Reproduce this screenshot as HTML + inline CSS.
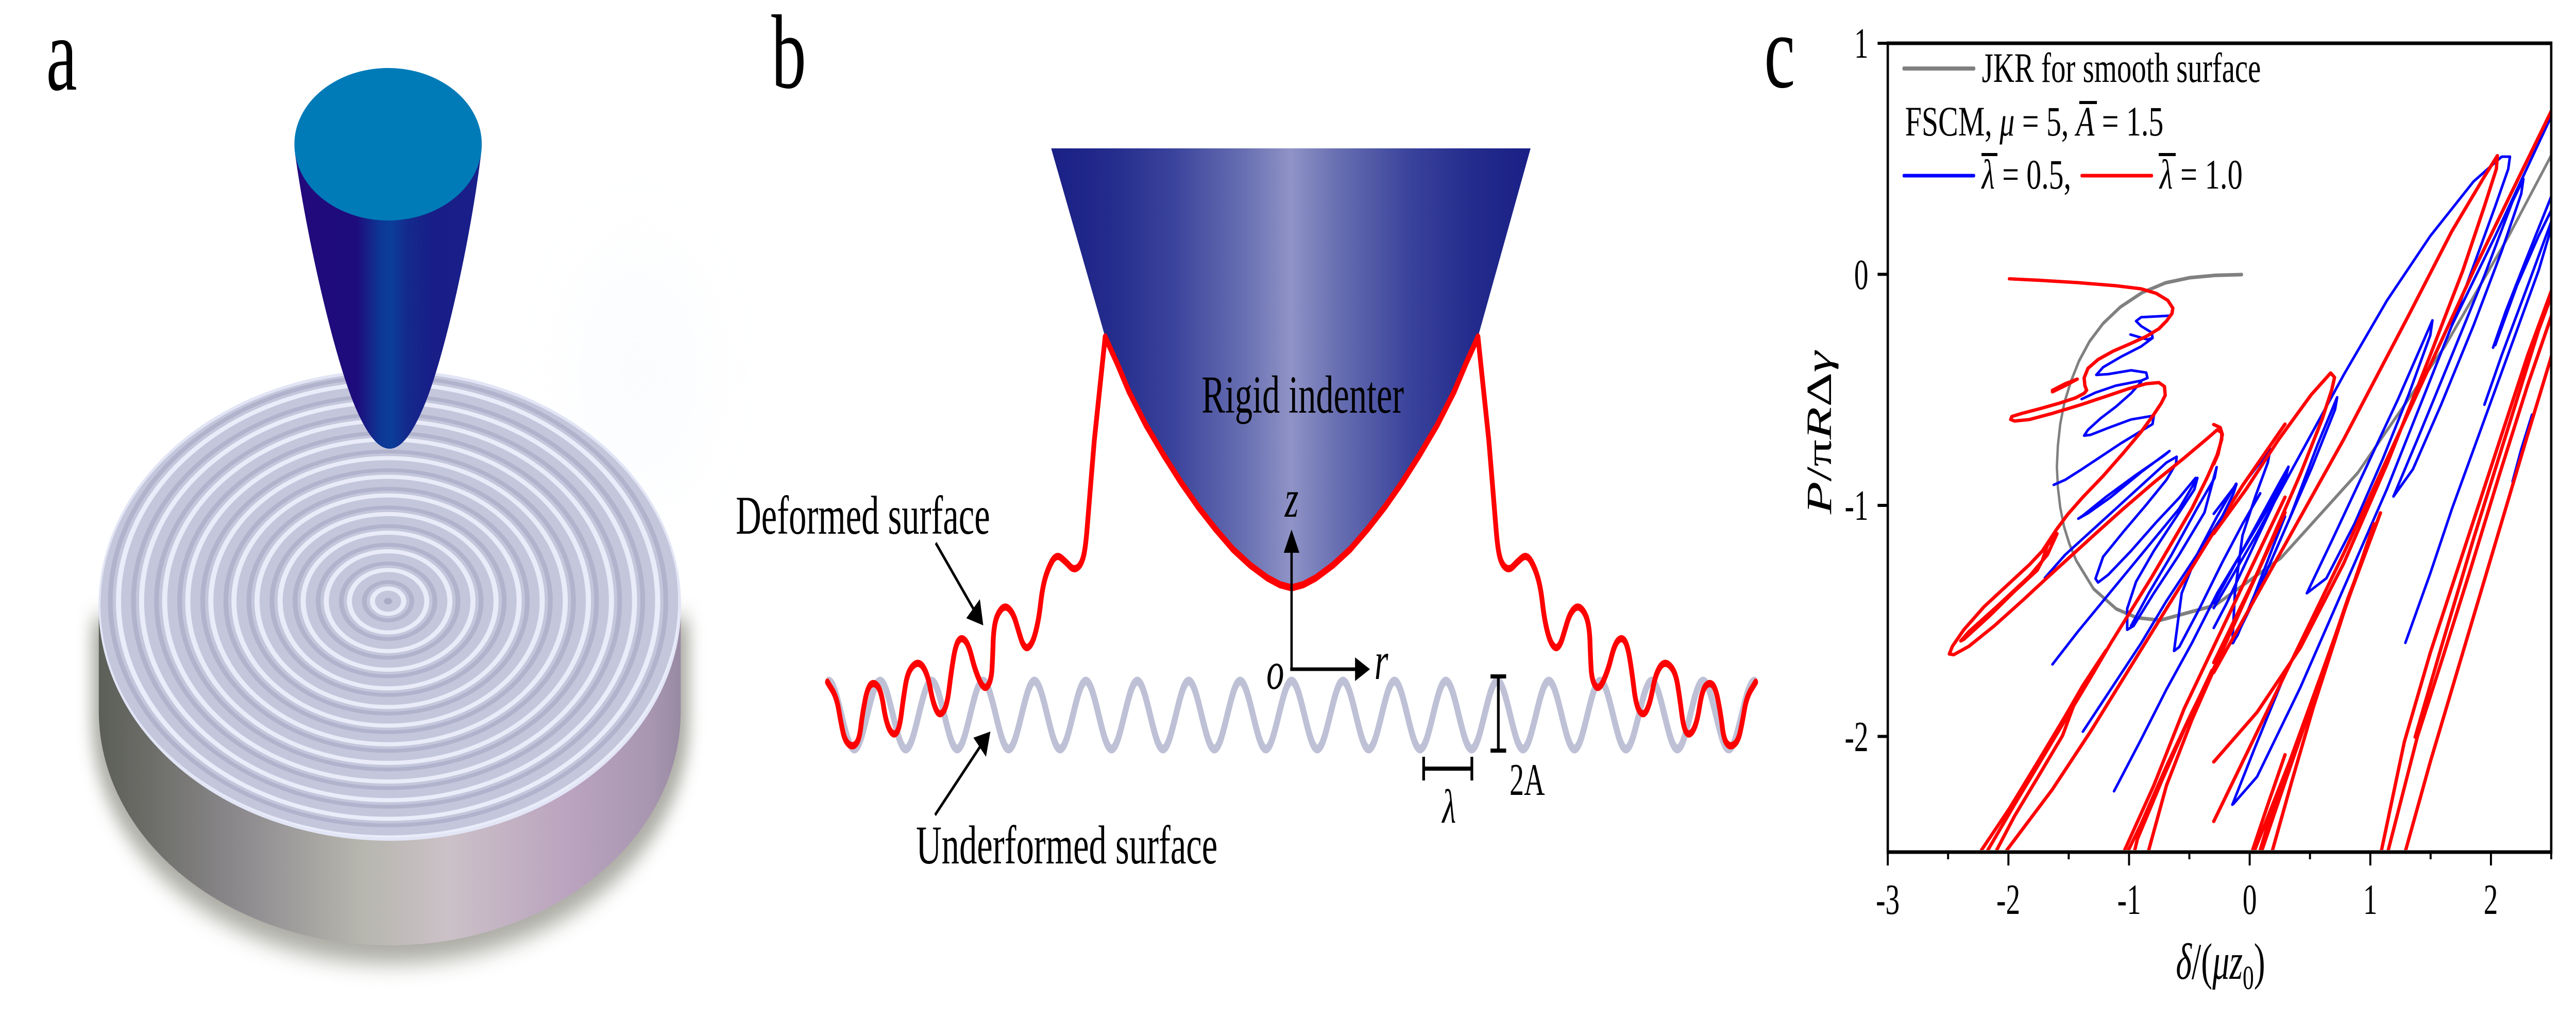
<!DOCTYPE html>
<html>
<head>
<meta charset="utf-8">
<style>
  html, body { margin:0; padding:0; background:#ffffff; overflow:hidden; width:100%; height:100%; }
  svg { display:block; width:100vw; height:100vh; }
  text { font-family: "Liberation Serif", "DejaVu Serif", serif; fill:#000; }
</style>
</head>
<body>
<svg xmlns="http://www.w3.org/2000/svg" viewBox="0 0 7587 1978" preserveAspectRatio="none">
  <defs>
    <linearGradient id="coneGrad" gradientUnits="userSpaceOnUse" x1="869" y1="0" x2="1417" y2="0">
      <stop offset="0" stop-color="#220a7c"/>
      <stop offset="0.33" stop-color="#1e0c7c"/>
      <stop offset="0.46" stop-color="#0d3895"/>
      <stop offset="0.52" stop-color="#0b3e99"/>
      <stop offset="0.6" stop-color="#142a8d"/>
      <stop offset="0.75" stop-color="#181d87"/>
      <stop offset="1" stop-color="#1a1f8a"/>
    </linearGradient>
    <linearGradient id="sideGrad" gradientUnits="userSpaceOnUse" x1="291" y1="0" x2="2005" y2="0">
      <stop offset="0" stop-color="#5c5e58"/>
      <stop offset="0.08" stop-color="#6b6c67"/>
      <stop offset="0.25" stop-color="#8e8b8f"/>
      <stop offset="0.45" stop-color="#b6b6ae"/>
      <stop offset="0.6" stop-color="#cbc1c7"/>
      <stop offset="0.8" stop-color="#bba4bf"/>
      <stop offset="0.95" stop-color="#a896b0"/>
      <stop offset="1" stop-color="#988aa2"/>
    </linearGradient>
    <linearGradient id="indGrad" gradientUnits="userSpaceOnUse" x1="3096" y1="0" x2="4508" y2="0">
      <stop offset="0" stop-color="#1a2086"/>
      <stop offset="0.12" stop-color="#232b8c"/>
      <stop offset="0.25" stop-color="#39429b"/>
      <stop offset="0.4" stop-color="#676eb1"/>
      <stop offset="0.5" stop-color="#8f93c6"/>
      <stop offset="0.6" stop-color="#676eb1"/>
      <stop offset="0.75" stop-color="#39429b"/>
      <stop offset="0.88" stop-color="#232b8c"/>
      <stop offset="1" stop-color="#1a2086"/>
    </linearGradient>
    <radialGradient id="glowGrad" cx="0.5" cy="0.5" r="0.5">
      <stop offset="0" stop-color="#eef5fc"/>
      <stop offset="1" stop-color="#ffffff" stop-opacity="0"/>
    </radialGradient>
    <filter id="blurShadow" x="-20%" y="-20%" width="140%" height="140%">
      <feGaussianBlur stdDeviation="22"/>
    </filter>
    <filter id="blurGlow" x="-50%" y="-50%" width="200%" height="200%">
      <feGaussianBlur stdDeviation="60"/>
    </filter>
    <clipPath id="topClip">
      <ellipse cx="1148" cy="1175" rx="857" ry="456"/>
    </clipPath>
    <clipPath id="plotClip">
      <rect x="5563" y="87" width="1948" height="1563"/>
    </clipPath>
  </defs>

  <rect x="0" y="0" width="7587" height="1978" fill="#ffffff"/>

  <!-- ================= PANEL A ================= -->
  <text x="136" y="174" font-size="205">a</text>

  <ellipse cx="1880" cy="720" rx="420" ry="460" fill="url(#glowGrad)" opacity="0.4" filter="url(#blurGlow)"/>

  <path d="M270,1200 L270,1400 A880,470 0 0 0 2030,1400 L2030,1200 Z" fill="#5a5a4c" opacity="0.5" filter="url(#blurShadow)"/>

  <path d="M291,1175 L291,1380 A857,455 0 0 0 2005,1380 L2005,1175 Z" fill="url(#sideGrad)"/>

  <ellipse cx="1148" cy="1175" rx="857" ry="456" fill="#c4c6dc"/>
  <g clip-path="url(#topClip)">
    <g transform="translate(1143,1167) scale(1,0.532)" fill="none">
      <g stroke="#a2a5c0" stroke-width="14" opacity="0.55">
        <circle r="70"/><circle r="138"/><circle r="206"/><circle r="274"/><circle r="342"/>
        <circle r="410"/><circle r="478"/><circle r="546"/><circle r="614"/><circle r="682"/>
        <circle r="750"/><circle r="818"/><circle r="886"/>
      </g>
      <g stroke="#eef0fc" stroke-width="15" opacity="0.9">
        <circle r="46"/><circle r="114"/><circle r="182"/><circle r="250"/><circle r="318"/>
        <circle r="386"/><circle r="454"/><circle r="522"/><circle r="590"/><circle r="658"/>
        <circle r="726"/><circle r="794"/><circle r="862"/>
      </g>
      <circle r="12" fill="#a9abc4"/>
    </g>
  </g>
  <ellipse cx="1148" cy="1175" rx="855" ry="454" fill="none" stroke="#e2e5f5" stroke-width="6"/>

  <path d="M869,298 C905,470 985,690 1040,780 C1080,845 1115,871 1147,871 C1180,871 1214,845 1254,780 C1309,690 1385,470 1417,298 Z" fill="url(#coneGrad)"/>
  <ellipse cx="1143" cy="280" rx="276" ry="148" fill="#007bb8"/>

  <!-- ================= PANEL B ================= -->
  <text x="2272" y="170" font-size="205">b</text>

  <path d="M3096,288 L4508,288 L4353,654 L4318,705 L4283,760 L4233,825 L4181,883 L4130,936 L4079,984 L4028,1027 L3977,1066 L3926,1097 L3875,1122 L3838,1135 L3804,1141 L3770,1135 L3733,1122 L3682,1097 L3631,1066 L3580,1027 L3529,984 L3478,936 L3427,883 L3375,825 L3325,760 L3290,705 L3255,654 Z" fill="url(#indGrad)"/>
  <text x="3539" y="801" font-size="104" textLength="596" lengthAdjust="spacingAndGlyphs">Rigid indenter</text>

  <path d="M2440.5,1322 c27.53,0 48.22,132 75.75,132 c27.53,0 48.22,-132 75.75,-132 c27.53,0 48.22,132 75.75,132 c27.53,0 48.22,-132 75.75,-132 c27.53,0 48.22,132 75.75,132 c27.53,0 48.22,-132 75.75,-132 c27.53,0 48.22,132 75.75,132 c27.53,0 48.22,-132 75.75,-132 c27.53,0 48.22,132 75.75,132 c27.53,0 48.22,-132 75.75,-132 c27.53,0 48.22,132 75.75,132 c27.53,0 48.22,-132 75.75,-132 c27.53,0 48.22,132 75.75,132 c27.53,0 48.22,-132 75.75,-132 c27.53,0 48.22,132 75.75,132 c27.53,0 48.22,-132 75.75,-132 c27.53,0 48.22,132 75.75,132 c27.53,0 48.22,-132 75.75,-132 c27.53,0 48.22,132 75.75,132 c27.53,0 48.22,-132 75.75,-132 c27.53,0 48.22,132 75.75,132 c27.53,0 48.22,-132 75.75,-132 c27.53,0 48.22,132 75.75,132 c27.53,0 48.22,-132 75.75,-132 c27.53,0 48.22,132 75.75,132 c27.53,0 48.22,-132 75.75,-132 c27.53,0 48.22,132 75.75,132 c27.53,0 48.22,-132 75.75,-132 c27.53,0 48.22,132 75.75,132 c27.53,0 48.22,-132 75.75,-132 c27.53,0 48.22,132 75.75,132 c27.53,0 48.22,-132 75.75,-132 c27.53,0 48.22,132 75.75,132 c27.53,0 48.22,-132 75.75,-132 c27.53,0 48.22,132 75.75,132 c27.53,0 48.22,-132 75.75,-132" fill="none" stroke="#bec1d6" stroke-width="17" stroke-linecap="round"/>

  <path fill="none" stroke="#ff0000" stroke-width="14" stroke-linejoin="round" stroke-linecap="round" d="
    M2437,1324 L2450.5,1338.5 Q2464,1353 2470.5,1378.5 Q2477,1404 2483,1421.5 Q2489,1439 2500.5,1445 Q2512,1451 2521.5,1443.5
    Q2531,1436 2535.5,1410.5 Q2540,1385 2548,1359 Q2556,1333 2565.5,1328.5 Q2575,1324 2585,1332 Q2595,1340 2602.5,1372
    Q2610,1404 2620.5,1416.5 Q2631,1429 2640,1422.5 Q2649,1416 2655,1384.5 Q2661,1353 2667.5,1327.5 Q2674,1302 2690,1292
    Q2706,1282 2719,1295 Q2732,1308 2740,1336.5 Q2748,1365 2757.5,1378 Q2767,1391 2778,1381.5 Q2789,1372 2795.5,1337
    Q2802,1302 2808.5,1276.5 Q2815,1251 2823.5,1243.5 Q2832,1236 2842.5,1243.5 Q2853,1251 2862.5,1276.5 Q2872,1302 2885.5,1321.5
    Q2899,1341 2909.5,1331 Q2920,1321 2922,1295.5 Q2924,1270 2925,1247.5 Q2926,1225 2931,1209 Q2936,1193 2948,1183.5
    Q2960,1174 2972,1182 Q2984,1190 2992,1207.5 Q3000,1225 3006,1238 Q3012,1251 3019,1255.5 Q3026,1260 3035,1252
    Q3044,1244 3052,1222 Q3060,1200 3065,1171 Q3070,1142 3078,1123 Q3086,1104 3098.5,1089.5 Q3111,1075 3125.5,1083
    Q3140,1091 3151,1099 Q3162,1107 3173,1102 Q3184,1097 3190.5,1081.5 Q3197,1066 3202,1024.5 Q3207,983 3215,919
    L3223,855 L3255,654
    L3290,705 L3325,760 L3375,825 L3427,883 L3478,936 L3529,984 L3580,1027 L3631,1066 L3682,1097 L3733,1122 L3770,1135 L3804,1141
    L3838,1135 L3875,1122 L3926,1097 L3977,1066 L4028,1027 L4079,984 L4130,936 L4181,883 L4233,825 L4283,760 L4318,705 L4353,654
    L4385,855 L4393,919 Q4401,983 4406,1024.5 Q4411,1066 4417.5,1081.5 Q4424,1097 4435,1102 Q4446,1107 4457,1099
    Q4468,1091 4482.5,1083 Q4497,1075 4509.5,1089.5 Q4522,1104 4530,1123 Q4538,1142 4543,1171 Q4548,1200 4556,1222
    Q4564,1244 4573,1252 Q4582,1260 4589,1255.5 Q4596,1251 4602,1238 Q4608,1225 4616,1207.5 Q4624,1190 4636,1182
    Q4648,1174 4660,1183.5 Q4672,1193 4677,1209 Q4682,1225 4683,1247.5 Q4684,1270 4686,1295.5 Q4688,1321 4698.5,1331
    Q4709,1341 4722.5,1321.5 Q4736,1302 4745.5,1276.5 Q4755,1251 4765.5,1243.5 Q4776,1236 4784.5,1243.5 Q4793,1251 4799.5,1276.5
    Q4806,1302 4812.5,1337 Q4819,1372 4830,1381.5 Q4841,1391 4850.5,1378 Q4860,1365 4868,1336.5 Q4876,1308 4889,1295
    Q4902,1282 4918,1292 Q4934,1302 4940.5,1327.5 Q4947,1353 4953,1384.5 Q4959,1416 4968,1422.5 Q4977,1429 4987.5,1416.5
    Q4998,1404 5005.5,1372 Q5013,1340 5023,1332 Q5033,1324 5042.5,1328.5 Q5052,1333 5060,1359 Q5068,1385 5072.5,1410.5
    Q5077,1436 5086.5,1443.5 Q5096,1451 5107.5,1445 Q5119,1439 5125,1421.5 Q5131,1404 5137.5,1378.5 Q5144,1353 5157.5,1338.5
    L5171,1324"/>

  <text x="2167" y="1036" font-size="106" textLength="749" lengthAdjust="spacingAndGlyphs">Deformed surface</text>
  <line x1="2756" y1="1054" x2="2868" y2="1183" stroke="#000" stroke-width="6.5"/>
  <polygon points="2896,1214 2846,1200 2886,1163" fill="#000"/>

  <text x="2698" y="1676" font-size="106" textLength="888" lengthAdjust="spacingAndGlyphs">Underformed surface</text>
  <line x1="2754" y1="1582" x2="2887" y2="1449" stroke="#000" stroke-width="6.5"/>
  <polygon points="2917,1420 2867,1432 2904,1469" fill="#000"/>

  <line x1="3804" y1="1302" x2="3804" y2="1068" stroke="#000" stroke-width="7"/>
  <polygon points="3804,1028 3781,1073 3827,1073" fill="#000"/>
  <line x1="3800" y1="1299" x2="3995" y2="1299" stroke="#000" stroke-width="7"/>
  <polygon points="4035,1299 3991,1276 3991,1322" fill="#000"/>
  <text x="3784" y="1003" font-size="104" font-style="italic">z</text>
  <text x="3730" y="1337" font-size="104" font-style="italic">o</text>
  <text x="4048" y="1318" font-size="104" font-style="italic">r</text>

  <line x1="4413" y1="1313" x2="4413" y2="1457" stroke="#000" stroke-width="8"/>
  <line x1="4390" y1="1313" x2="4436" y2="1313" stroke="#000" stroke-width="8"/>
  <line x1="4390" y1="1457" x2="4436" y2="1457" stroke="#000" stroke-width="8"/>
  <text x="4446" y="1543" font-size="88" textLength="104" lengthAdjust="spacingAndGlyphs">2A</text>

  <line x1="4193" y1="1492" x2="4335" y2="1492" stroke="#000" stroke-width="8"/>
  <line x1="4193" y1="1469" x2="4193" y2="1515" stroke="#000" stroke-width="8"/>
  <line x1="4335" y1="1469" x2="4335" y2="1515" stroke="#000" stroke-width="8"/>
  <text x="4248" y="1597" font-size="93" font-style="italic">λ</text>

  <!-- ================= PANEL C ================= -->
  <text x="5196" y="169" font-size="205">c</text>

  <g clip-path="url(#plotClip)" fill="none" stroke-linejoin="round" stroke-linecap="round">
    <polyline stroke="#808080" stroke-width="7" points="6603,533 6524,534.5 6450,539 6378,549 6309,568 6245,596 6194,628 6154,663 6123,701 6099,741 6080,782 6068,823 6061,865 6058,906 6061,946 6068,985 6079,1022 6095,1056 6115,1088 6166,1143 6233,1182 6293,1199 6362,1204 6524,1175 6718,1083 6944,918 7201,672 7389,458 7513,303"/>

    <g transform="translate(5560,480) scale(0.7462)">
      <g stroke="#0000ff" stroke-width="5">
        <path vector-effect="non-scaling-stroke" d="M958,227 L1025,240 L1045,236 L1042,222 L1000,205 L980,192 L1000,182 L1110,178"/>
        <path vector-effect="non-scaling-stroke" d="M1045,236 L1000,258 L920,285 L850,312 L823,332 L870,330 L960,320 L1020,326 L1025,340 L1000,347 L900,360 L820,378 L765,395"/>
        <path vector-effect="non-scaling-stroke" d="M1000,350 L960,380 L900,415 L840,445 L790,475 L775,490 L800,488 L870,470 L960,448 L1050,438 L1045,460 L1000,478 L920,510 L840,545 L760,580 L700,605 L655,618"/>
        <path vector-effect="non-scaling-stroke" d="M1112,530 L1000,585 L880,650 L790,692 L752,706 L770,698 L860,650 L980,592 L1090,542 L1112,530"/>
        <path vector-effect="non-scaling-stroke" d="M1140,545 L1138,562 L1100,605 L1020,670 L930,740 L850,805 L820,862 L830,872 L870,852 L960,790 L1060,715 L1150,652 L1215,600"/>
        <path vector-effect="non-scaling-stroke" d="M620,860 L700,800 L800,740 L900,680 L1000,620 L1100,560 L1140,545"/>
        <path vector-effect="non-scaling-stroke" d="M650,1085 L750,1000 L850,920 L950,840 L1050,760 L1150,680 L1222,600 L1210,630 L1140,700 L1050,790 L980,870 L945,940 L945,995 L970,985 L1050,900 L1150,800 L1250,690 L1298,572 L1290,600 L1220,680 L1120,800 L1030,900 L960,985"/>
        <path vector-effect="non-scaling-stroke" d="M1375,615 L1300,700 L1220,800 L1160,900 L1130,1050 L1150,1040 L1230,940 L1320,820 L1400,720 L1470,640"/>
        <path vector-effect="non-scaling-stroke" d="M1510,525 L1500,560 L1450,650 L1400,750 L1370,900 L1360,1030 L1380,1010 L1450,900 L1520,780 L1568,700"/>
        <path vector-effect="non-scaling-stroke" d="M893,1415 L1000,1280 L1100,1150 L1200,1030 L1300,900 L1400,790 L1500,680 L1568,600"/>
        <path vector-effect="non-scaling-stroke" d="M1360,1450 L1450,1300 L1568,1110"/>
        <path vector-effect="non-scaling-stroke" d="M1510,525 L1400,620 L1300,720 L1200,820 L1100,920 L1000,1030 L900,1130 L770,1260"/>
      </g>
      <g stroke="#ff0000" stroke-width="6.5">
        <path vector-effect="non-scaling-stroke" d="M480,82 L600,86 L750,92 L900,100 L1000,108 L1060,120 L1105,138 L1125,158 L1122,172 L1100,192 L1070,212 L1020,232 L960,250 L890,270 L830,292 L790,315 L775,340 L778,360 L785,372 L775,380 L740,392 L680,405 L600,420 L530,432 L490,440 L485,448 L500,452 L560,448 L650,432 L760,410 L860,388 L950,368 L1020,355 L1070,352 L1092,362 L1095,385 L1080,405 L1050,435 L1000,480 L930,535 L850,595 L770,650 L710,695 L665,735 L640,760 L610,790 L560,825 L470,880 L380,935 L300,995 L255,1038 L243,1058 L260,1060 L320,1038 L420,985 L530,920 L620,865 L720,805 L820,745 L930,680 L1050,612 L1170,548 L1260,498 L1300,475 L1318,482 L1318,500 L1300,540 L1260,600 L1200,680 L1120,770 L1040,860 L960,945 L880,1030 L800,1120 L700,1230 L600,1340 L500,1450 L420,1540 L395,1568"/>
        <path vector-effect="non-scaling-stroke" d="M668,745 L630,775 L610,815 L590,840 L500,895 L400,960 L300,1020 L288,1024 L320,1000 L430,935 L560,855 L630,800 L668,745"/>
        <path vector-effect="non-scaling-stroke" d="M650,372 L700,355 L748,343 L700,360 L650,376"/>
        <path vector-effect="non-scaling-stroke" d="M862,1048 L800,1110 L735,1190 L690,1270 L600,1370 L500,1480 L430,1568"/>
        <path vector-effect="non-scaling-stroke" d="M855,1055 L770,1140 L700,1220 L600,1330 L480,1460 L370,1568"/>
        <path vector-effect="non-scaling-stroke" d="M1568,460 L1400,620 L1250,780 L1100,940 L950,1100 L800,1260 L650,1410 L470,1568"/>
        <path vector-effect="non-scaling-stroke" d="M1292,1088 L1200,1210 L1100,1350 L1000,1500 L950,1568"/>
        <path vector-effect="non-scaling-stroke" d="M1280,1100 L1180,1240 L1080,1390 L985,1540 L975,1568"/>
        <path vector-effect="non-scaling-stroke" d="M1568,650 L1430,840 L1300,1020 L1170,1200 L1050,1400 L935,1568"/>
        <path vector-effect="non-scaling-stroke" d="M1568,690 L1450,860 L1320,1050 L1200,1230 L1100,1400 L1030,1568"/>
        <path vector-effect="non-scaling-stroke" d="M1568,1320 L1500,1450 L1440,1568"/>
        <path vector-effect="non-scaling-stroke" d="M1568,1370 L1510,1480 L1470,1568"/>
      </g>
    </g>

    <g transform="translate(6520,150) scale(0.6378,0.963)">
      <g stroke="#0000ff" stroke-width="5">
        <path vector-effect="non-scaling-stroke" d="M0,1070 L200,920 L400,760 L600,600 L800,450 L1000,320 L1200,210 L1330,160 L1368,160 L1360,185 L1300,260 L1200,380 L1100,500 L1000,610 L900,720 L800,830 L700,930 L600,1030 L500,1130 L400,1230 L300,1320 L200,1410 L90,1465"/>
        <path vector-effect="non-scaling-stroke" d="M430,1040 L550,930 L700,790 L850,650 L960,540 L1010,490 L1000,520 L900,640 L780,770 L650,900 L520,1010 L430,1040"/>
        <path vector-effect="non-scaling-stroke" d="M830,845 L950,720 L1100,560 L1250,400 L1380,250 L1430,205 L1420,235 L1330,350 L1200,500 L1050,660 L920,790 L830,845"/>
        <path vector-effect="non-scaling-stroke" d="M1290,545 L1350,470 L1440,370 L1568,230"/>
        <path vector-effect="non-scaling-stroke" d="M1300,540 L1400,420 L1500,320 L1568,260"/>
        <path vector-effect="non-scaling-stroke" d="M885,1140 L1000,1000 L1100,870 L1200,750 L1300,630 L1400,510 L1500,390 L1568,290"/>
        <path vector-effect="non-scaling-stroke" d="M90,1140 L200,1040 L350,890 L480,740 L570,645 L560,670 L450,790 L320,920 L180,1060 L90,1140"/>
        <path vector-effect="non-scaling-stroke" d="M0,1060 L150,940 L300,820 L345,785 L330,810 L200,930 L60,1060 L0,1110"/>
        <path vector-effect="non-scaling-stroke" d="M0,880 L105,820 L90,840 L0,920"/>
        <path vector-effect="non-scaling-stroke" d="M1470,680 L1420,750 L1380,815"/>
        <path vector-effect="non-scaling-stroke" d="M1568,70 L1300,320 L1100,500"/>
        <path vector-effect="non-scaling-stroke" d="M1568,280 L1450,420 L1330,560 L1250,660"/>
      </g>
      <g stroke="#ff0000" stroke-width="6.5">
        <path vector-effect="non-scaling-stroke" d="M0,1200 L300,965 L600,730 L900,480 L1100,310 L1250,200 L1310,158 L1305,185 L1250,260 L1150,390 L1000,560 L800,780 L600,980 L400,1150 L200,1280 L0,1380"/>
        <path vector-effect="non-scaling-stroke" d="M0,920 L150,830 L300,730 L450,640 L540,596 L558,605 L545,630 L500,690 L400,800 L300,900 L200,1000 L100,1090 L0,1180"/>
        <path vector-effect="non-scaling-stroke" d="M0,700 L30,706 L40,720 L20,760 L0,780"/>
        <path vector-effect="non-scaling-stroke" d="M770,878 L640,1030 L500,1200 L350,1380 L180,1568"/>
        <path vector-effect="non-scaling-stroke" d="M760,890 L620,1050 L480,1230 L330,1420 L215,1568"/>
        <path vector-effect="non-scaling-stroke" d="M740,900 L600,1080 L460,1270 L360,1420 L265,1568"/>
        <path vector-effect="non-scaling-stroke" d="M1568,420 L1450,560 L1300,760 L1150,960 L1000,1160 L880,1340 L770,1568"/>
        <path vector-effect="non-scaling-stroke" d="M1568,470 L1450,620 L1320,800 L1180,1000 L1050,1180 L940,1330 L800,1568"/>
        <path vector-effect="non-scaling-stroke" d="M930,1330 L1050,1150 L1200,930 L1350,720 L1500,510 L1568,430"/>
        <path vector-effect="non-scaling-stroke" d="M1568,550 L1450,720 L1300,940 L1150,1160 L1000,1380 L880,1568"/>
        <path vector-effect="non-scaling-stroke" d="M1568,60 L1400,210 L1200,390 L1000,580 L800,770 L600,960 L400,1140 L200,1320 L0,1500"/>
      </g>
    </g>
  </g>

  <rect x="5560" y="84" width="1954" height="1570" fill="none" stroke="#000" stroke-width="7"/>
  <g stroke="#000" stroke-width="6">
    <line x1="5560" y1="1654" x2="5560" y2="1680"/>
    <line x1="5915.3" y1="1654" x2="5915.3" y2="1680"/>
    <line x1="6270.6" y1="1654" x2="6270.6" y2="1680"/>
    <line x1="6625.9" y1="1654" x2="6625.9" y2="1680"/>
    <line x1="6981.2" y1="1654" x2="6981.2" y2="1680"/>
    <line x1="7336.5" y1="1654" x2="7336.5" y2="1680"/>
    <line x1="5737.6" y1="1654" x2="5737.6" y2="1668"/>
    <line x1="6092.9" y1="1654" x2="6092.9" y2="1668"/>
    <line x1="6448.2" y1="1654" x2="6448.2" y2="1668"/>
    <line x1="6803.5" y1="1654" x2="6803.5" y2="1668"/>
    <line x1="7158.8" y1="1654" x2="7158.8" y2="1668"/>
    <line x1="7514" y1="1654" x2="7514" y2="1668"/>
    <line x1="5530" y1="84" x2="5560" y2="84"/>
    <line x1="5530" y1="532.5" x2="5560" y2="532.5"/>
    <line x1="5530" y1="981" x2="5560" y2="981"/>
    <line x1="5530" y1="1429.5" x2="5560" y2="1429.5"/>
  </g>
  <g font-size="84" text-anchor="middle">
    <text x="5560" y="1774">-3</text>
    <text x="5915" y="1774">-2</text>
    <text x="6271" y="1774">-1</text>
    <text x="6626" y="1774">0</text>
    <text x="6981" y="1774">1</text>
    <text x="7336" y="1774">2</text>
  </g>
  <g font-size="84" text-anchor="end">
    <text x="5503" y="112">1</text>
    <text x="5503" y="561">0</text>
    <text x="5503" y="1009">-1</text>
    <text x="5503" y="1458">-2</text>
  </g>

  <text x="6540" y="1900" font-size="100" text-anchor="middle"><tspan font-style="italic">δ</tspan>/(<tspan font-style="italic">μz</tspan><tspan font-size="66" dy="20">0</tspan><tspan dy="-20">)</tspan></text>
  <text transform="translate(5393,840) rotate(-90)" font-size="104" text-anchor="middle"><tspan font-style="italic">P</tspan>/π<tspan font-style="italic">R</tspan>Δ<tspan font-style="italic">γ</tspan></text>

  <line x1="5607" y1="133" x2="5814" y2="133" stroke="#808080" stroke-width="8" stroke-linecap="round"/>
  <text x="5837" y="159" font-size="82" textLength="822" lengthAdjust="spacingAndGlyphs">JKR for smooth surface</text>

  <text x="5611" y="263" font-size="82" textLength="761" lengthAdjust="spacingAndGlyphs">FSCM, <tspan font-style="italic">μ</tspan> = 5, <tspan font-style="italic">A</tspan> = 1.5</text>
  <rect x="6124" y="196" width="52" height="6" fill="#000"/>

  <line x1="5607" y1="341" x2="5814" y2="341" stroke="#0000ff" stroke-width="7" stroke-linecap="round"/>
  <text x="5837" y="366" font-size="82" textLength="263" lengthAdjust="spacingAndGlyphs"><tspan font-style="italic">λ</tspan> = 0.5,</text>
  <rect x="5836" y="297" width="47" height="6" fill="#000"/>

  <line x1="6131" y1="341" x2="6338" y2="341" stroke="#ff0000" stroke-width="7" stroke-linecap="round"/>
  <text x="6361" y="366" font-size="82" textLength="244" lengthAdjust="spacingAndGlyphs"><tspan font-style="italic">λ</tspan> = 1.0</text>
  <rect x="6358" y="297" width="50" height="6" fill="#000"/>
</svg>
</body>
</html>
